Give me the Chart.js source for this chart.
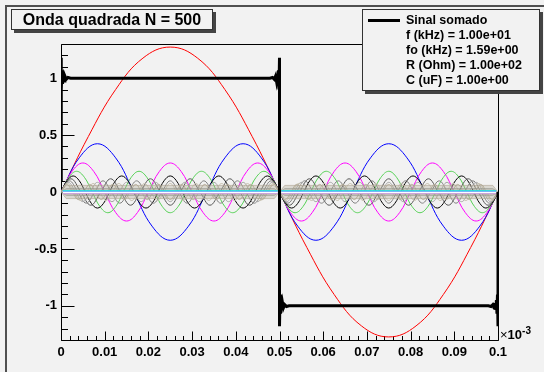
<!DOCTYPE html>
<html><head><meta charset="utf-8">
<script src="https://cdn.jsdelivr.net/npm/chart.js@4.4.0/dist/chart.umd.min.js"></script>
<style>
html,body{margin:0;padding:0;background:#f2f2f2;}
#wrap{position:relative;width:544px;height:372px;overflow:hidden;background:#f2f2f2;font-family:"Liberation Sans",Arial,sans-serif;color:#000;}
canvas{position:absolute;left:0;top:0;}
.ln{position:absolute;background:#505050;}
#title{position:absolute;left:11px;top:9px;width:202px;height:21px;box-sizing:border-box;border:1px solid #333;background:#f2f2f2;box-shadow:3px 3px 0 #444;font-weight:bold;font-size:16px;line-height:19px;text-align:center;white-space:nowrap;}
#legend{position:absolute;left:362px;top:9px;width:178px;height:82px;box-sizing:border-box;border:1px solid #333;background:#f2f2f2;box-shadow:3px 3px 0 #444;}
.lt{position:absolute;left:43px;font-weight:bold;font-size:12.5px;line-height:15px;white-space:nowrap;}
#lsample{position:absolute;left:5px;top:9px;width:32px;height:3px;background:#000;}
#xmul{position:absolute;left:500px;top:328px;font-size:13px;line-height:13px;white-space:nowrap;}
#xmul b{font-weight:bold;}
#xmul sup{font-weight:bold;font-size:10px;position:relative;top:-5px;vertical-align:baseline;}
</style></head>
<body>
<div id="wrap">
  <canvas id="c" width="544" height="372"></canvas>
  <div class="ln" style="left:5px;top:5px;width:539px;height:2px;"></div>
  <div class="ln" style="left:5px;top:5px;width:2px;height:367px;"></div>
  <div id="title">Onda quadrada N = 500</div>
  <div id="legend">
    <div id="lsample"></div>
    <div class="lt" style="top:3px;">Sinal somado</div>
    <div class="lt" style="top:18px;">f (kHz) = 1.00e+01</div>
    <div class="lt" style="top:33px;">fo (kHz) = 1.59e+00</div>
    <div class="lt" style="top:48px;">R (Ohm) = 1.00e+02</div>
    <div class="lt" style="top:63px;">C (uF) = 1.00e+00</div>
  </div>
  <div id="xmul">×<b>10</b><sup>-3</sup></div>
</div>
<script>
// ---- tick values / labels ----
const xTickValues = [0, 0.01, 0.02, 0.03, 0.04, 0.05, 0.06, 0.07, 0.08, 0.09, 0.1];
const xTickLabels = ['0','0.01','0.02','0.03','0.04','0.05','0.06','0.07','0.08','0.09','0.1'];
const yTickValues = [-1, -0.5, 0, 0.5, 1];
const yTickLabels = ['-1','-0.5','0','0.5','1'];

// ---- summed signal (square wave, N = 500) ----
const sumX = [0, 0, 0.00012, 0.00024, 0.00036, 0.0005, 0.0007, 0.0009, 0.0012, 0.0016, 0.0022,
  0.0478, 0.0484, 0.0488, 0.0491, 0.0493, 0.0495, 0.04964, 0.04976, 0.04988, 0.0500,
  0.0500, 0.05012, 0.05024, 0.05036, 0.0505, 0.0507, 0.0509, 0.0512, 0.0516, 0.0522,
  0.0978, 0.0984, 0.0988, 0.0991, 0.0993, 0.0995, 0.09964, 0.09976, 0.09988, 0.1000, 0.1000];
const sumY = [0.10, 1.18, 0.90, 1.07, 0.95, 1.035, 0.975, 1.018, 0.99, 1.006, 1.0,
  1.0, 1.006, 0.99, 1.018, 0.975, 1.035, 0.95, 1.07, 0.90, 1.18,
  -1.18, -0.90, -1.07, -0.95, -1.035, -0.975, -1.018, -0.99, -1.006, -1.0,
  -1.0, -1.006, -0.99, -1.018, -0.975, -1.035, -0.95, -1.07, -0.90, -1.18, 0];

// ---- individual harmonics (evenly spaced over 0..0.1) ----
const h1 = [0, 0.487, 0.900, 1.176, 1.273, 1.176, 0.900, 0.487, 0, -0.487, -0.900, -1.176, -1.273, -1.176, -0.900, -0.487, 0];
const h3 = [0,.300,.424,.300,0,-.300,-.424,-.300,
            0,.300,.424,.300,0,-.300,-.424,-.300,
            0,.300,.424,.300,0,-.300,-.424,-.300, 0];
const h5 = [0,.180,.255,.180,0,-.180,-.255,-.180,
            0,.180,.255,.180,0,-.180,-.255,-.180,
            0,.180,.255,.180,0,-.180,-.255,-.180,
            0,.180,.255,.180,0,-.180,-.255,-.180,
            0,.180,.255,.180,0,-.180,-.255,-.180, 0];
const h7 = [0,.129,.182,.129,0,-.129,-.182,-.129,
            0,.129,.182,.129,0,-.129,-.182,-.129,
            0,.129,.182,.129,0,-.129,-.182,-.129,
            0,.129,.182,.129,0,-.129,-.182,-.129,
            0,.129,.182,.129,0,-.129,-.182,-.129,
            0,.129,.182,.129,0,-.129,-.182,-.129,
            0,.129,.182,.129,0,-.129,-.182,-.129, 0];
const h9 = [0,.100,.141,.100,0,-.100,-.141,-.100,
            0,.100,.141,.100,0,-.100,-.141,-.100,
            0,.100,.141,.100,0,-.100,-.141,-.100,
            0,.100,.141,.100,0,-.100,-.141,-.100,
            0,.100,.141,.100,0,-.100,-.141,-.100,
            0,.100,.141,.100,0,-.100,-.141,-.100,
            0,.100,.141,.100,0,-.100,-.141,-.100,
            0,.100,.141,.100,0,-.100,-.141,-.100,
            0,.100,.141,.100,0,-.100,-.141,-.100, 0];
const h11 = [0,.116,0,-.116, 0,.116,0,-.116, 0,.116,0,-.116, 0,.116,0,-.116, 0,.116,0,-.116,
             0,.116,0,-.116, 0,.116,0,-.116, 0,.116,0,-.116, 0,.116,0,-.116, 0,.116,0,-.116,
             0,.116,0,-.116, 0];
const h13 = [0,.098,0,-.098, 0,.098,0,-.098, 0,.098,0,-.098, 0,.098,0,-.098, 0,.098,0,-.098,
             0,.098,0,-.098, 0,.098,0,-.098, 0,.098,0,-.098, 0,.098,0,-.098, 0,.098,0,-.098,
             0,.098,0,-.098, 0,.098,0,-.098, 0,.098,0,-.098, 0];
const h15 = [0,.085,0,-.085, 0,.085,0,-.085, 0,.085,0,-.085, 0,.085,0,-.085, 0,.085,0,-.085,
             0,.085,0,-.085, 0,.085,0,-.085, 0,.085,0,-.085, 0,.085,0,-.085, 0,.085,0,-.085,
             0,.085,0,-.085, 0,.085,0,-.085, 0,.085,0,-.085, 0,.085,0,-.085, 0,.085,0,-.085, 0];
const h17 = [0,.075,0,-.075, 0,.075,0,-.075, 0,.075,0,-.075, 0,.075,0,-.075, 0,.075,0,-.075,
             0,.075,0,-.075, 0,.075,0,-.075, 0,.075,0,-.075, 0,.075,0,-.075, 0,.075,0,-.075,
             0,.075,0,-.075, 0,.075,0,-.075, 0,.075,0,-.075, 0,.075,0,-.075, 0,.075,0,-.075,
             0,.075,0,-.075, 0,.075,0,-.075, 0];
const h19 = [0,.067,0,-.067, 0,.067,0,-.067, 0,.067,0,-.067, 0,.067,0,-.067, 0,.067,0,-.067,
             0,.067,0,-.067, 0,.067,0,-.067, 0,.067,0,-.067, 0,.067,0,-.067, 0,.067,0,-.067,
             0,.067,0,-.067, 0,.067,0,-.067, 0,.067,0,-.067, 0,.067,0,-.067, 0,.067,0,-.067,
             0,.067,0,-.067, 0,.067,0,-.067, 0,.067,0,-.067, 0,.067,0,-.067, 0];

// ---- envelope of the many small high harmonics (band around zero) ----
const bandX = [0, 0.0012, 0.0488, 0.05, 0.0512, 0.0988, 0.1];
const bandOuter = [0, 0.058, 0.058, 0, 0.058, 0.058, 0];
const bandInner = [0, 0.030, 0.030, 0, 0.030, 0.030, 0];
const stripeX = [0.0004, 0.0496, 0.05, 0.0504, 0.0996];
const stripeLevels = [0.012, 0.004, -0.005, -0.014];

// ---------------------------------------------------------------
const pts = arr => arr.map((v, i) => ({x: i * 0.1 / (arr.length - 1), y: v}));
const ptsXY = (xs, ys) => xs.map((x, i) => ({x, y: ys[i]}));

const harmStyle = [
  [h1, '#ff0000', 40], [h3, '#0000ff', 39], [h5, '#ff00ff', 38], [h7, '#55d055', 37],
  [h9, '#000000', 36], [h11, '#555555', 35], [h13, '#808080', 34], [h15, '#a5a5a5', 33],
  [h17, '#c6c0ae', 32], [h19, '#b5ad98', 31]
];
const datasets = [];
datasets.push({data: ptsXY(sumX, sumY), borderColor: '#000', borderWidth: 3, tension: 0, order: 0, pointRadius: 0, fill: false});
harmStyle.forEach(([arr, col, ord]) => datasets.push({data: pts(arr), borderColor: col, borderWidth: 1, tension: 0.4, order: ord, pointRadius: 0, fill: false}));
datasets.push({data: ptsXY(bandX, bandOuter), borderColor: 'rgba(170,160,140,0.6)', borderWidth: 1, backgroundColor: 'rgba(175,168,150,0.35)', fill: '+1', tension: 0, order: 20, pointRadius: 0});
datasets.push({data: ptsXY(bandX, bandOuter.map(v => -v)), borderColor: 'rgba(170,160,140,0.6)', borderWidth: 1, fill: false, tension: 0, order: 20, pointRadius: 0});
datasets.push({data: ptsXY(bandX, bandInner), borderColor: 'rgba(150,150,140,0.6)', borderWidth: 1, backgroundColor: 'rgba(160,160,150,0.4)', fill: '+1', tension: 0, order: 19, pointRadius: 0});
datasets.push({data: ptsXY(bandX, bandInner.map(v => -v)), borderColor: 'rgba(150,150,140,0.6)', borderWidth: 1, fill: false, tension: 0, order: 19, pointRadius: 0});
const stripeCols = ['#20e0e0', '#80b0ff', '#ffffff', '#c080d0'];
stripeLevels.forEach((lv, k) => datasets.push({
  data: stripeX.map(x => ({x, y: x === 0.05 ? null : lv})), borderColor: stripeCols[k], borderWidth: k === 2 ? 1.6 : 1,
  spanGaps: false, tension: 0, order: 5 + k, pointRadius: 0, fill: false}));

const FONT = '"Liberation Sans", Arial, sans-serif';
const rootAxes = {
  id: 'rootAxes',
  beforeDatasetsDraw(c) {
    const {ctx, chartArea: a, scales: {x, y}} = c;
    ctx.save();
    ctx.lineWidth = 1;
    ctx.strokeStyle = '#000';
    const L = Math.round(a.left) + 0.5, R = Math.round(a.right) + 0.5, T = Math.round(a.top) + 0.5, B = Math.round(a.bottom) + 0.5;
    ctx.beginPath();
    ctx.moveTo(L, T); ctx.lineTo(R, T); ctx.lineTo(R, B); ctx.lineTo(L, B); ctx.closePath();
    ctx.stroke();
    ctx.beginPath();
    const xs = 0.01 / 5;
    for (let i = 0; i < xTickValues.length; i++) {
      const v = xTickValues[i];
      const px = Math.round(x.getPixelForValue(v)) + 0.5;
      ctx.moveTo(px, B); ctx.lineTo(px, B - 9);
      if (i < xTickValues.length - 1) for (let j = 1; j < 5; j++) {
        const p = Math.round(x.getPixelForValue(v + j * xs)) + 0.5;
        ctx.moveTo(p, B); ctx.lineTo(p, B - 4.5);
      }
    }
    const ys = 0.1;
    for (let v = -1.3; v <= 1.3001; v += ys) {
      const vv = Math.round(v * 10) / 10;
      const py = Math.round(y.getPixelForValue(vv)) + 0.5;
      const major = Math.abs(vv * 2 - Math.round(vv * 2)) < 1e-6;
      ctx.moveTo(L, py); ctx.lineTo(L + (major ? 13 : 6.5), py);
    }
    ctx.stroke();
    ctx.restore();
  }
};

new Chart(document.getElementById('c'), {
  type: 'line',
  data: {datasets},
  options: {
    responsive: false, animation: false, devicePixelRatio: 1,
    layout: {padding: {left: 0, top: 44, right: 46, bottom: 0}},
    plugins: {legend: {display: false}, title: {display: false}, tooltip: {enabled: false}},
    elements: {line: {capBezierPoints: true}},
    scales: {
      x: {
        type: 'linear', min: 0, max: 0.1,
        afterBuildTicks: s => { s.ticks = xTickValues.map(v => ({value: v})); },
        afterFit: s => { s.height = 32; },
        grid: {display: false, drawTicks: false}, border: {display: false},
        ticks: {autoSkip: false, maxRotation: 0, padding: 5, color: '#000',
          font: {family: FONT, size: 13, weight: 'bold'},
          callback: (v, i) => xTickLabels[i]}
      },
      y: {
        type: 'linear', min: -1.3, max: 1.3,
        afterBuildTicks: s => { s.ticks = yTickValues.map(v => ({value: v})); },
        afterFit: s => { s.width = 61; },
        grid: {display: false, drawTicks: false}, border: {display: false},
        ticks: {autoSkip: false, padding: 4, color: '#000',
          font: {family: FONT, size: 13, weight: 'bold'},
          callback: (v, i) => yTickLabels[i]}
      }
    }
  },
  plugins: [rootAxes]
});
</script>
</body></html>
